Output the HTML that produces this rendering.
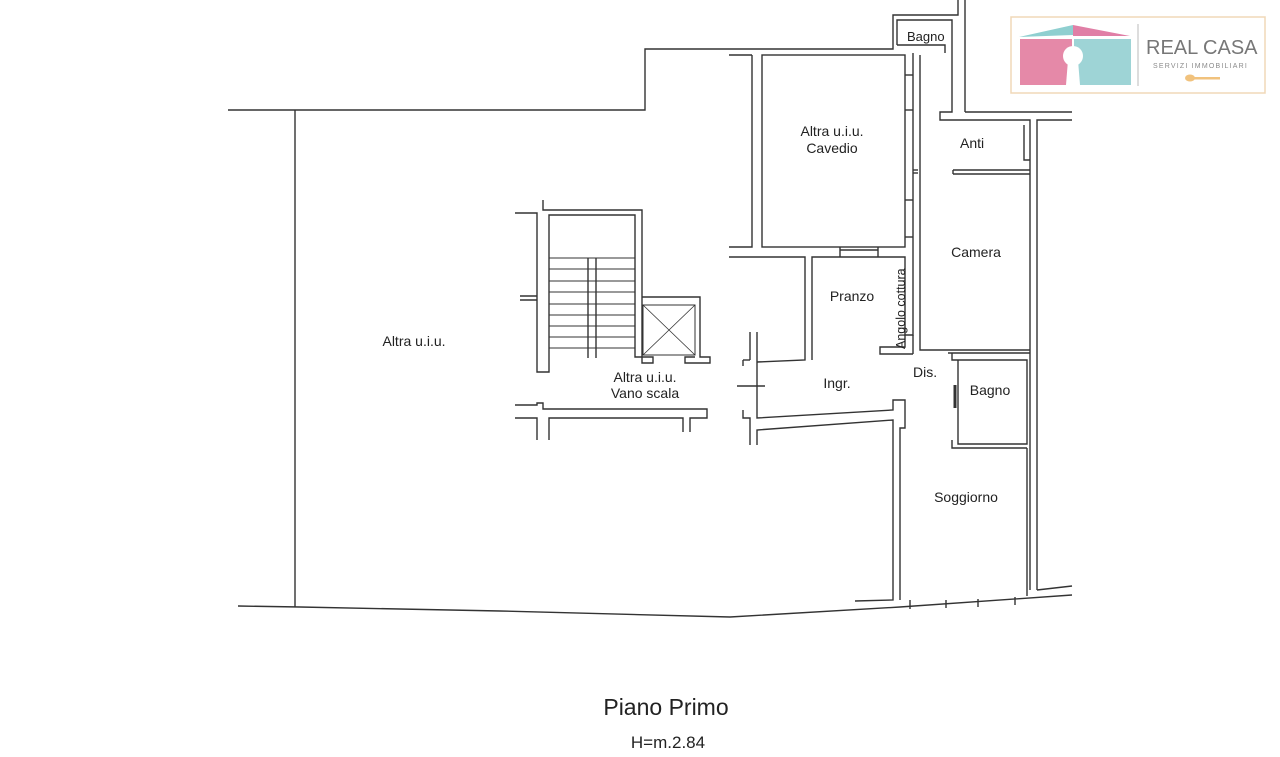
<!DOCTYPE html>
<html><head><meta charset="utf-8"><style>
html,body{margin:0;padding:0;background:#fff;width:1280px;height:757px;overflow:hidden}
svg{display:block}
text{font-family:"Liberation Sans",sans-serif;fill:#222}
</style></head><body>
<svg width="1280" height="757" viewBox="0 0 1280 757" xmlns="http://www.w3.org/2000/svg">
<g fill="none" stroke="#333" stroke-width="1.4">
<polyline points="228,110 645,110 645,49 893,49 893,15 958,15 958,0"/>
<line x1="295" y1="110" x2="295" y2="607"/>
<polyline points="238,606 300,607 500,611 730,617 900,607 1072,595"/>
<polyline points="897,45 897,20 952,20 952,112 940,112 940,120 1030,120 1030,590"/>
<line x1="965" y1="0" x2="965" y2="112"/>
<line x1="965" y1="112" x2="1072" y2="112"/>
<polyline points="1037,590 1037,120 1072,120"/>
<line x1="1037" y1="590" x2="1072" y2="586"/>
<polyline points="1024,125 1024,160 1030,160"/>
<polyline points="897,45 945,45 945,53"/>
<line x1="729" y1="55" x2="752" y2="55"/>
<polyline points="752,55 752,247 729,247"/>
<rect x="762" y="55" width="143" height="192"/>
<polyline points="913,53 913,335 905,335"/>
<line x1="905" y1="75" x2="913" y2="75"/><line x1="905" y1="110" x2="913" y2="110"/>
<line x1="905" y1="200" x2="913" y2="200"/><line x1="905" y1="237" x2="913" y2="237"/>
<line x1="913" y1="170" x2="918" y2="170"/><line x1="913" y1="173" x2="918" y2="173"/>
<polyline points="729,257 805,257 805,360 757,362"/>
<polyline points="812,360 812,257 905,257 905,347 880,347 880,354 913,354"/>
<line x1="840" y1="250" x2="878" y2="250"/>
<line x1="840" y1="247" x2="840" y2="257"/><line x1="878" y1="247" x2="878" y2="257"/>
<line x1="913" y1="335" x2="913" y2="354"/>
<line x1="757" y1="332" x2="757" y2="405"/><line x1="750" y1="332" x2="750" y2="360"/>
<line x1="743" y1="360" x2="750" y2="360"/><line x1="743" y1="360" x2="743" y2="366"/>
<line x1="737" y1="386" x2="765" y2="386"/>
<polyline points="757,405 757,418 893,410 893,400 905,400 905,428 900,428 900,600"/>
<polyline points="743,410 743,418 750,418 750,445"/>
<polyline points="757,445 757,430 893,420 893,600 855,601"/>
<polyline points="953,170 1030,170"/><polyline points="953,174 1030,174"/>
<line x1="953" y1="170" x2="953" y2="174"/>
<polyline points="920,55 920,350 1030,350"/>
<polyline points="948,353 1030,353"/>
<polyline points="952,353 952,360 958,360 958,444 1027,444 1027,360 958,360"/>
<polyline points="952,440 952,448 1027,448"/>
<line x1="955" y1="385" x2="955" y2="408" stroke-width="3"/>
<polyline points="1027,448 1027,596"/>
<line x1="910" y1="600" x2="910" y2="609"/><line x1="946" y1="600" x2="946" y2="608"/>
<line x1="978" y1="599" x2="978" y2="607"/><line x1="1015" y1="597" x2="1015" y2="605"/>
<polyline points="515,213 537,213 537,372 549,372 549,215 635,215 635,357 653,357 653,363 642,363 642,210 543,210 543,200"/>
<line x1="520" y1="296" x2="537" y2="296"/><line x1="520" y1="300" x2="537" y2="300"/>
<polyline points="642,297 700,297 700,357 710,357 710,363 685,363 685,357 695,357"/>
<rect x="643" y="305" width="52" height="50" stroke-width="1"/>
<line x1="643" y1="305" x2="695" y2="355" stroke-width="0.8"/><line x1="695" y1="305" x2="643" y2="355" stroke-width="0.8"/>
<line x1="588" y1="258" x2="588" y2="358"/><line x1="596" y1="258" x2="596" y2="358"/>
<polyline points="515,405 537,405 537,403 543,403 543,409 707,409 707,418 690,418 690,432"/>
<polyline points="515,418 537,418 537,440"/><polyline points="549,440 549,418 683,418 683,432"/>
</g>
<g stroke="#333" stroke-width="1">
<line x1="549" y1="258" x2="635" y2="258"/><line x1="549" y1="269" x2="635" y2="269"/>
<line x1="549" y1="281" x2="635" y2="281"/><line x1="549" y1="292" x2="635" y2="292"/>
<line x1="549" y1="304" x2="635" y2="304"/><line x1="549" y1="315" x2="635" y2="315"/>
<line x1="549" y1="326" x2="635" y2="326"/><line x1="549" y1="337" x2="635" y2="337"/>
<line x1="549" y1="348" x2="635" y2="348"/>
</g>
<g font-size="14">
<text x="907" y="41" font-size="13">Bagno</text>
<text x="832" y="136" text-anchor="middle">Altra u.i.u.</text>
<text x="832" y="153" text-anchor="middle">Cavedio</text>
<text x="960" y="148">Anti</text>
<text x="976" y="257" text-anchor="middle">Camera</text>
<text x="852" y="301" text-anchor="middle">Pranzo</text>
<text x="905" y="349" font-size="12.5" transform="rotate(-90 905 349)">Angolo cottura</text>
<text x="414" y="346" text-anchor="middle">Altra u.i.u.</text>
<text x="645" y="382" text-anchor="middle">Altra u.i.u.</text>
<text x="645" y="398" text-anchor="middle">Vano scala</text>
<text x="837" y="388" text-anchor="middle">Ingr.</text>
<text x="913" y="377">Dis.</text>
<text x="990" y="395" text-anchor="middle">Bagno</text>
<text x="966" y="502" text-anchor="middle">Soggiorno</text>
<text x="666" y="715" font-size="23" text-anchor="middle" fill="#111">Piano Primo</text>
<text x="668" y="748" font-size="17" text-anchor="middle" fill="#111">H=m.2.84</text>
</g>
<rect x="1011" y="17" width="254" height="76" fill="#fff" stroke="#f0d8b8" stroke-width="1.5"/>
<polygon points="1019,37 1073,25 1073,35" fill="#8fcfd0"/>
<polygon points="1073,25 1130,36 1073,36" fill="#e07fa6"/>
<rect x="1020" y="39" width="52" height="46" fill="#e589a8"/>
<rect x="1074" y="39" width="57" height="46" fill="#9ed4d6"/>
<circle cx="1073" cy="56" r="10" fill="#fff"/>
<polygon points="1068,60 1078,60 1080,85 1066,85" fill="#fff"/>
<line x1="1138" y1="24" x2="1138" y2="86" stroke="#bbb"/>
<text x="1146" y="54" font-size="20" style="fill:#777">REAL CASA</text>
<text x="1153" y="68" font-size="7" style="fill:#8a8a8a;letter-spacing:1.2px">SERVIZI IMMOBILIARI</text>
<ellipse cx="1190" cy="78" rx="5" ry="3.5" fill="#f1c27d"/>
<rect x="1194" y="77" width="26" height="2.5" fill="#f1c27d"/>
</svg>
</body></html>
